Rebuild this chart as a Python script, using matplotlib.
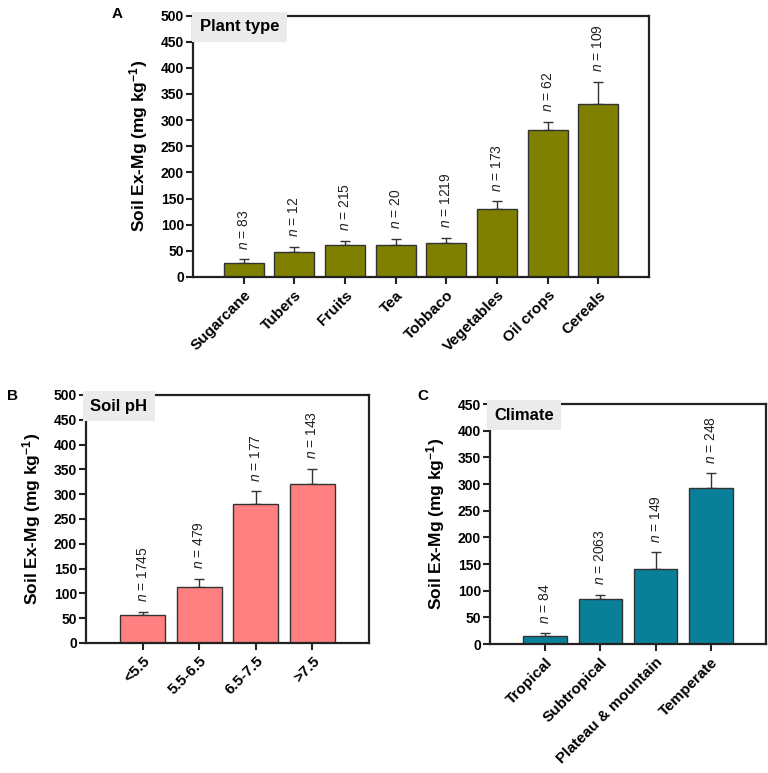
import matplotlib
matplotlib.use("Agg")
import matplotlib.pyplot as plt
import numpy as np

plt.rcParams['font.family'] = ['Liberation Sans', 'DejaVu Sans']
plt.rcParams['mathtext.fontset'] = 'custom'
plt.rcParams['mathtext.rm'] = 'Liberation Sans'
plt.rcParams['mathtext.it'] = 'Liberation Sans:italic'
plt.rcParams['mathtext.bf'] = 'Liberation Sans:bold'

# Panel A: plant type
plant_types = ["Sugarcane", "Tubers", "Fruits", "Tea", "Tobbaco", "Vegetables", "Oil crops", "Cereals"]
plant_mean = [27.4, 47.8, 60.6, 61.9, 64.4, 130.7, 281.9, 331.6]
plant_err = [6.4, 10.2, 8.9, 11.4, 10.2, 14.1, 14.7, 41.4]
plant_n = [83, 12, 215, 20, 1219, 173, 62, 109]

# Panel B: soil pH
ph_classes = ["<5.5", "5.5-6.5", "6.5-7.5", ">7.5"]
ph_mean = [57, 113, 280, 320.6]
ph_err = [6, 17, 26, 30.4]
ph_n = [1745, 479, 177, 143]

# Panel C: climate
climates = ["Tropical", "Subtropical", "Plateau & mountain", "Temperate"]
clim_mean = [14.4, 84, 141, 291.6]
clim_err = [5.6, 8.6, 31, 28.4]
clim_n = [84, 2063, 149, 248]

W, H = 768, 773
fig = plt.figure(figsize=(W / 100, H / 100), dpi=100)


def rect(l, t, r, b):
    return [l / W, 1 - b / H, (r - l) / W, (b - t) / H]


def panel(ax, cats, mean, err, ns, color, ymax, title, letter, letter_xy):
    x = np.arange(len(cats))
    ax.bar(x, mean, width=0.79, color=color, edgecolor='#333333', linewidth=1.0, zorder=2)
    ax.errorbar(x, mean, yerr=[np.zeros(len(err)), err], fmt='none', ecolor='#333333',
                elinewidth=1.0, capsize=3.6, capthick=1.0, zorder=1)
    for xi, m, e, n in zip(x, mean, err, ns):
        ax.annotate(r"$n$ = %d" % n, (xi, m + e), xytext=(0, 7), textcoords='offset points',
                    rotation=90, ha='center', va='bottom', fontsize=10, color='#222222')
    ax.set_xlim(-1, len(cats))
    ax.set_ylim(0, ymax)
    ax.set_yticks(np.arange(0, ymax + 1, 50))
    ax.set_xticks(x)
    ax.set_xticklabels(cats, rotation=45, ha='right', rotation_mode='anchor',
                       fontsize=11, fontweight='bold')
    for lab in ax.get_yticklabels():
        lab.set_fontweight('bold')
        lab.set_fontsize(10)
    ax.tick_params(axis='both', direction='out', length=5, width=1.5, color='#222222')
    ax.tick_params(axis='x', pad=3)
    ax.tick_params(axis='y', pad=1.5)
    for s in ax.spines.values():
        s.set_linewidth(1.6)
        s.set_color('#222222')
    ax.set_ylabel(r"Soil Ex-Mg (mg kg$^{\mathbf{-1}}$)", fontsize=12.5, fontweight='bold')
    ax.text(0.015, 0.985, title, transform=ax.transAxes, ha='left', va='top',
            fontsize=12, fontweight='bold',
            bbox=dict(boxstyle='square,pad=0.45', facecolor='#ebebeb', edgecolor='none'))
    fig.text(letter_xy[0] / W, 1 - letter_xy[1] / H, letter, fontsize=11, fontweight='bold',
             ha='center', va='center')


axA = fig.add_axes(rect(193, 15.5, 649, 277))
panel(axA, plant_types, plant_mean, plant_err, plant_n, '#808000', 500, 'Plant type', 'A', (117, 14))
axA.yaxis.labelpad = 8

axB = fig.add_axes(rect(86, 395, 369, 643))
panel(axB, ph_classes, ph_mean, ph_err, ph_n, '#ff8080', 500, 'Soil pH', 'B', (13, 396))
axB.yaxis.labelpad = 8

axC = fig.add_axes(rect(490, 404, 766, 644))
panel(axC, climates, clim_mean, clim_err, clim_n, '#0a7f98', 450, 'Climate', 'C', (423, 396))
axC.yaxis.labelpad = 8

fig.savefig("out.png", dpi=100)
